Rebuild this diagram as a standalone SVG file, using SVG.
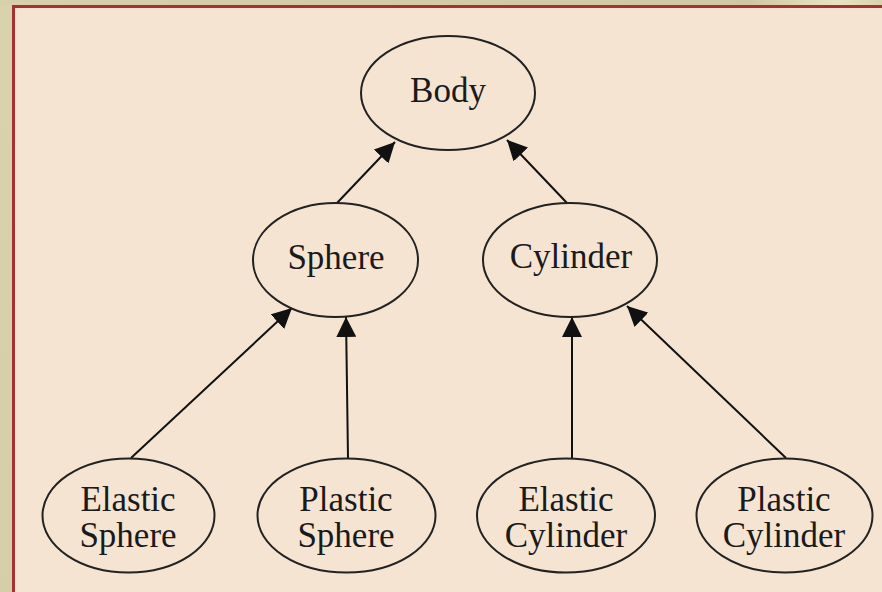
<svg xmlns="http://www.w3.org/2000/svg" width="882" height="592" viewBox="0 0 882 592">
  <defs>
    <linearGradient id="bg" x1="0" y1="0" x2="1" y2="1">
      <stop offset="0" stop-color="#d8d3ad"/>
      <stop offset="0.5" stop-color="#d4cfa9"/>
      <stop offset="1" stop-color="#e2dfbf"/>
    </linearGradient>
    <linearGradient id="top" x1="0" y1="0" x2="1" y2="0">
      <stop offset="0" stop-color="#d6d1ab"/>
      <stop offset="0.85" stop-color="#cfc9a3"/>
      <stop offset="0.95" stop-color="#e8e4c2"/>
      <stop offset="1" stop-color="#d9d4ae"/>
    </linearGradient>
    <marker id="arr" viewBox="0 0 20 20" refX="20" refY="10" markerWidth="20" markerHeight="20" markerUnits="userSpaceOnUse" orient="auto">
      <path d="M0,0 L20,10 L0,20 Z" fill="#111"/>
    </marker>
  </defs>
  <style>
    .node ellipse { fill: none; stroke: #222; stroke-width: 2; }
    .node text { font-family: "Liberation Serif", "Times New Roman", serif; font-size: 35px; fill: #1a1a1a; text-anchor: middle; }
    #edges line { stroke: #111; stroke-width: 2; marker-end: url(#arr); }
  </style>
  <rect x="0" y="0" width="882" height="592" fill="url(#bg)"/>
  <rect x="0" y="0" width="882" height="6" fill="url(#top)"/>
  <rect x="13.5" y="6.5" width="880" height="600" fill="#f5e4d1" stroke="#a5322f" stroke-width="3"/>

  <g id="edges">
    <line x1="337" y1="203" x2="395" y2="142"/>
    <line x1="567" y1="203" x2="507" y2="140"/>
    <line x1="131" y1="458" x2="292" y2="308"/>
    <line x1="348" y1="458" x2="346" y2="317"/>
    <line x1="572" y1="458" x2="572" y2="317"/>
    <line x1="786" y1="458" x2="627" y2="306"/>
  </g>

  <g id="body" class="node">
    <ellipse cx="448" cy="93" rx="87" ry="57"/>
    <text x="448" y="102">Body</text>
  </g>
  <g id="sphere" class="node">
    <ellipse cx="335.5" cy="260" rx="82.5" ry="57"/>
    <text x="336" y="269">Sphere</text>
  </g>
  <g id="cylinder" class="node">
    <ellipse cx="570" cy="260" rx="87" ry="57"/>
    <text x="571" y="268">Cylinder</text>
  </g>
  <g id="elastic-sphere" class="node">
    <ellipse cx="128.5" cy="515.5" rx="86" ry="57"/>
    <text x="128" y="511">Elastic</text>
    <text x="128" y="547">Sphere</text>
  </g>
  <g id="plastic-sphere" class="node">
    <ellipse cx="346.5" cy="515.5" rx="89" ry="57"/>
    <text x="346" y="511">Plastic</text>
    <text x="346" y="547">Sphere</text>
  </g>
  <g id="elastic-cylinder" class="node">
    <ellipse cx="566" cy="515.5" rx="89" ry="57"/>
    <text x="566" y="511">Elastic</text>
    <text x="566" y="547">Cylinder</text>
  </g>
  <g id="plastic-cylinder" class="node">
    <ellipse cx="784.5" cy="515.5" rx="88" ry="57"/>
    <text x="784" y="511">Plastic</text>
    <text x="784" y="547">Cylinder</text>
  </g>
</svg>
